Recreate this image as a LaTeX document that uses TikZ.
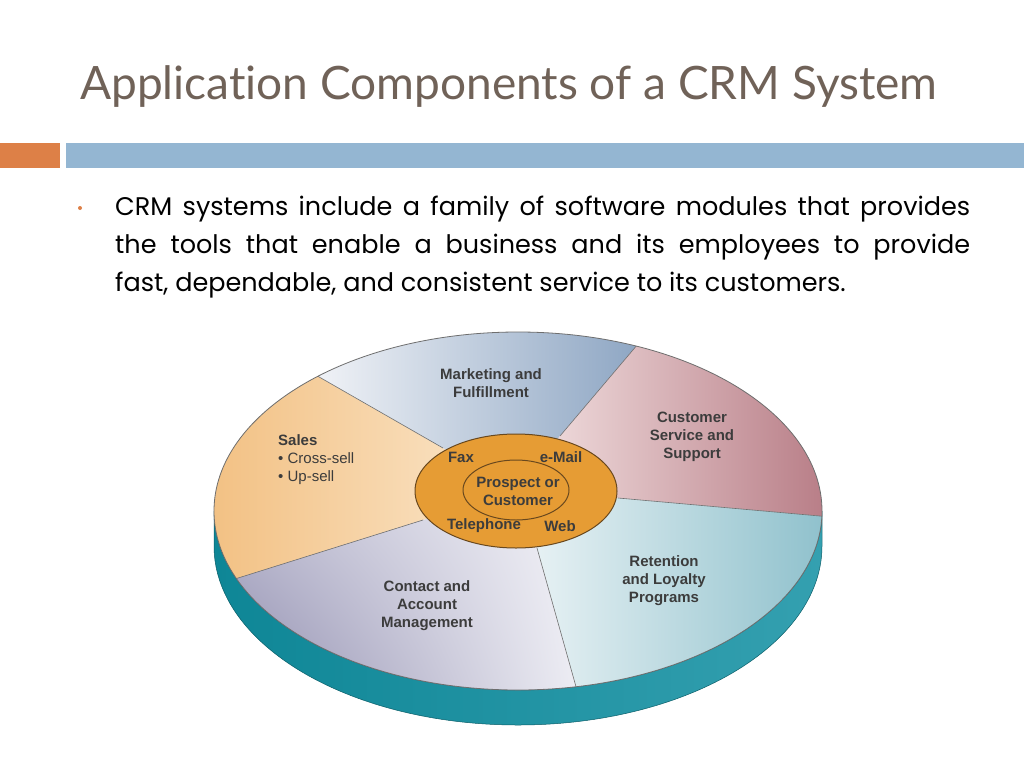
\documentclass[tikz,border=0pt]{standalone}
\usepackage{fontspec}
\setmainfont{Poppins}
\newfontfamily\titlefont[Ligatures={NoCommon,NoDiscretionary,NoRare}]{Lato}
\newfontfamily\piefont{Liberation Sans}
\usetikzlibrary{positioning,shadings,shapes.geometric}
\definecolor{titlebrown}{RGB}{112,98,88}
\definecolor{barorange}{RGB}{221,128,71}
\definecolor{barblue}{RGB}{148,182,210}
\definecolor{labelgray}{RGB}{60,60,60}
\definecolor{rimline}{RGB}{110,110,110}
\definecolor{tealdark}{RGB}{14,134,150}
\definecolor{teallight}{RGB}{52,160,176}
\definecolor{salesdark}{RGB}{242,192,130}
\definecolor{saleslight}{RGB}{251,231,204}
\definecolor{mktlight}{RGB}{245,246,249}
\definecolor{mktdark}{RGB}{139,164,194}
\definecolor{servlight}{RGB}{244,228,228}
\definecolor{servdark}{RGB}{181,120,130}
\definecolor{retlight}{RGB}{236,244,246}
\definecolor{retdark}{RGB}{138,190,202}
\definecolor{contdark}{RGB}{135,132,168}
\definecolor{contmid}{RGB}{190,189,210}
\definecolor{contlight}{RGB}{243,243,248}
\definecolor{hubfill}{RGB}{230,156,52}
\definecolor{hubline}{RGB}{105,72,30}

\begin{document}
\begin{tikzpicture}[x=1pt,y=-1pt,every node/.style={inner sep=0pt},
    pielabel/.style={font=\piefont\bfseries\fontsize{15}{18}\selectfont, text=labelgray, align=center},
    sectorline/.style={draw=rimline, line width=0.6pt}]
\useasboundingbox (0,0) rectangle (1024,768);
\fill[white] (0,0) rectangle (1024,768);
\fill[barorange] (0,143) rectangle (60,168);
\fill[barblue] (66,143) rectangle (1024,168);
\node[anchor=west, text=titlebrown, font=\titlefont\fontsize{46}{50}\selectfont] (title) at (80,87) {Application Components of a CRM System};
\node[circle, fill=barorange, minimum size=4pt] (dot) at (80,208) {};
\node[anchor=north west, text width=855pt, align=justify, font=\fontsize{25.5}{38}\selectfont] (body) at (115,196) {CRM systems include a family of software modules that provides\linebreak the tools that enable a business and its employees to provide\linebreak fast, dependable, and consistent service to its customers.};

\shade[left color=tealdark, right color=teallight, draw=tealdark!70!black, line width=0.5pt] (214,511) -- (214,546) arc[start angle=180, end angle=0, x radius=304, y radius=179] -- (822,511) arc[start angle=0, end angle=180, x radius=304, y radius=179] -- cycle;

\coordinate (c) at (516,491);
\begin{scope}
\clip (518,511) ellipse [x radius=304, y radius=179];
\shade[left color=salesdark, right color=saleslight] (c) -- (443,448) -- (300,366) -- (205,366) -- (205,590) -- (219,584) -- (423,520) -- cycle;
\shade[left color=mktlight, right color=mktdark] (c) -- (443,448) -- (300,366) -- (300,320) -- (649,320) -- (649,331) -- (560,436) -- cycle;
\shade[left color=servlight, right color=servdark] (c) -- (560,436) -- (649,331) -- (842,331) -- (842,518) -- (618,498) -- cycle;
\shade[left color=retlight, right color=retdark] (c) -- (618,498) -- (842,518) -- (842,708) -- (582,708) -- (537,548) -- cycle;
\shade[upper left=contmid, lower left=contdark, upper right=contlight, lower right=contlight!90!contmid] (c) -- (537,548) -- (582,708) -- (219,708) -- (219,584) -- (423,520) -- cycle;
\draw[sectorline] (443,448) -- (300,366);
\draw[sectorline] (560,436) -- (649,331);
\draw[sectorline] (618,498) -- (842,518);
\draw[sectorline] (537,548) -- (582,708);
\draw[sectorline] (423,520) -- (219,584);
\end{scope}
\draw[rimline, line width=0.8pt] (518,511) ellipse [x radius=304, y radius=179];

\node[ellipse, draw=hubline, fill=hubfill, line width=1pt, minimum width=202pt, minimum height=114pt] (hub) at (516,491) {};
\node[ellipse, draw=hubline, line width=1pt, minimum width=106pt, minimum height=60pt] (core) at (516,490) {};
\node[pielabel] (prospect) at (518,491) {Prospect or\\Customer};
\node[pielabel] (fax) at (461,457) {Fax};
\node[pielabel] (email) at (561,457) {e-Mail};
\node[pielabel] (phone) at (484,526) {Telephone};
\node[pielabel] (web) at (560,526) {Web};

\node[pielabel] (marketing) at (491,383) {Marketing and\\Fulfillment};
\node[pielabel] (service) at (692,437) {Customer\\Service and\\Support};
\node[pielabel, align=left, anchor=north west] (sales) at (278,434) {Sales\\{\mdseries\textbullet\ Cross-sell}\\{\mdseries\textbullet\ Up-sell}};
\node[pielabel] (contact) at (427,606) {Contact and\\Account\\Management};
\node[pielabel] (retention) at (664,581) {Retention\\and Loyalty\\Programs};
\end{tikzpicture}
\end{document}
